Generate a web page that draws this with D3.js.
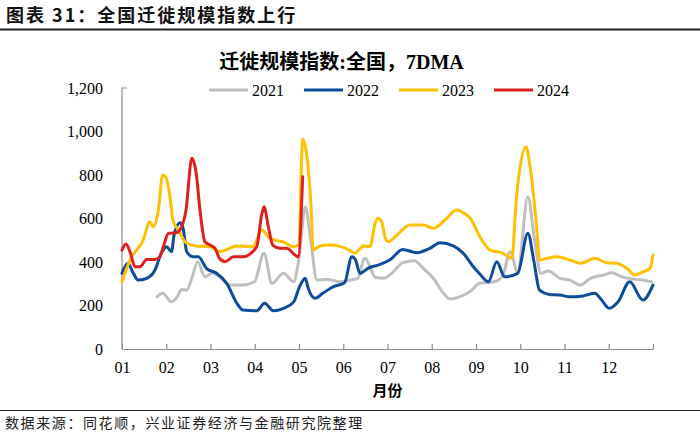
<!DOCTYPE html>
<html>
<head>
<meta charset="utf-8">
<script src="https://cdn.jsdelivr.net/npm/d3@7"></script>
<style>
  html, body { margin: 0; padding: 0; background: #fff; }
  svg { display: block; }
</style>
</head>
<body>
<svg id="chart" width="700" height="433"></svg>
<script>
// ---------------- DATA ----------------
const monthLabels = ["01","02","03","04","05","06","07","08","09","10","11","12"];
const yTicks = [0, 200, 400, 600, 800, 1000, 1200];
const seriesNames = ["2021", "2022", "2023", "2024"];

// day-of-year positions and 7DMA values
const days2021 = [24,28,34,38,41,44.5,48,52,57,62,67,74,83,91,97.6,103,111,118,121.5,126,129.7,134,141,150,157,162,167,170.5,174,180,186.5,193,201,207,214,221,225.5,232,239,246,256,262,266.7,272,279,283.6,288,293,301,308,315,322,331,336.6,343.5,351.5,358,364];
const vals2021 = [240,256,217,240,274,271,325,401,332,348,332,294,294,309,440,302,348,309,409,654,501,317,320,309,317,325,417,378,330,325,355,397,406,371,325,256,230,240,263,302,309,340,447,355,700,501,348,359,325,317,294,325,340,351,332,322,317,309];

const days2022 = [0,4,7.8,11,17,22.7,27,30.7,34,36,40,42,44.5,49,52.5,58,65,72,79,83,92.6,98,104,111,118,122,126,128,132.7,138,145,153,158,160.5,163.6,169,176,184,193,202.5,211.7,218.6,227.7,234.6,241.5,246,251.8,257.6,263,272,279,283,287,294,301,308,317,325,329.7,335,341,349,358,365];
const vals2022 = [348,394,348,317,325,363,440,470,447,532,581,555,447,424,424,371,348,302,210,179,176,210,176,187,217,286,325,279,233,256,286,305,424,409,348,371,386,409,458,443,463,489,474,440,378,345,309,401,332,348,532,409,271,251,248,240,244,256,225,187,217,309,225,294];

const days2023 = [0,5.5,14.6,19.2,21.5,25,28,30,33,35,38.7,44.5,51,60.5,67,79,90,96,101.7,112,117.7,121.5,124.2,129.7,131.5,136,143,157,160,166,170.5,174,176,178.5,181,183,189,198,207,214,222,230,237,239,246,253,262,268,271,277.7,280.5,285,287,292,299,308,315,325,333,340,347,352.6,358,363,365];
const vals2023 = [310,409,501,585,562,639,800,792,700,593,547,486,474,470,447,474,470,547,509,489,470,480,964,685,455,474,478,452,440,474,470,578,601,585,509,493,524,570,570,555,593,639,616,605,516,455,440,417,685,930,838,562,409,417,424,409,394,417,397,394,371,340,355,371,432];

const days2024 = [0,2.7,5.5,9,12.4,17,22.7,26,28.4,32,37.6,41,44,48,51,53.6,57,60.5,64,67,71,76.5,83,92.6,96,97.6,100.6,103.6,108.6,113,119,121,124.2];
const vals2024 = [455,483,447,378,378,412,412,424,470,532,535,562,639,877,808,639,493,478,463,417,401,424,424,470,616,654,562,478,463,463,432,424,792];

const seriesColors = ["#BFBFBF", "#0E4C9A", "#FFC000", "#E0201E"];

// ---------------- LAYOUT ----------------
const svg = d3.select("#chart");
const W = 700, H = 433;
const plot = { left: 122, right: 653, top: 88, bottom: 349 };
const serif = "'Liberation Serif','Times New Roman','Noto Sans CJK SC',serif";
const cjk = "'Noto Sans CJK SC','Liberation Serif',sans-serif";

svg.append("rect").attr("width", W).attr("height", H).attr("fill", "#fff");

// header
svg.append("text")
  .attr("x", 6).attr("y", 22)
  .attr("font-family", cjk).attr("font-weight", "bold")
  .attr("font-size", 18).attr("letter-spacing", 2)
  .attr("fill", "#111")
  .text("图表 31：全国迁徙规模指数上行");
svg.append("line").attr("x1", 0).attr("x2", W).attr("y1", 29.5).attr("y2", 29.5)
  .attr("stroke", "#222").attr("stroke-width", 2);

// footer
svg.append("line").attr("x1", 0).attr("x2", W).attr("y1", 410.5).attr("y2", 410.5)
  .attr("stroke", "#222").attr("stroke-width", 1);
svg.append("text")
  .attr("x", 5).attr("y", 428)
  .attr("font-family", cjk).attr("font-size", 14).attr("letter-spacing", 1.6)
  .attr("fill", "#222")
  .text("数据来源：同花顺，兴业证券经济与金融研究院整理");

// chart title
svg.append("text")
  .attr("x", 341.5).attr("y", 69)
  .attr("text-anchor", "middle")
  .attr("font-family", serif).attr("font-weight", "bold").attr("font-size", 20)
  .attr("fill", "#000")
  .text("迁徙规模指数:全国，7DMA");

// scales
const x = d3.scaleLinear().domain([0, 365]).range([plot.left, plot.right]);
const y = d3.scaleLinear().domain([0, 1200]).range([plot.bottom, plot.top]);

// y axis labels
const yAxis = d3.axisLeft(y).tickValues(yTicks).tickSize(0).tickPadding(19)
  .tickFormat(d3.format(","));
const gy = svg.append("g").attr("transform", `translate(${plot.left},0)`).call(yAxis);
gy.select(".domain").remove();
gy.selectAll("text").attr("font-family", serif).attr("font-size", 16).attr("fill", "#000");

// y axis line + top tick
svg.append("path")
  .attr("d", `M${plot.left + 5},${y(1200)}H${plot.left}V${plot.bottom}`)
  .attr("fill", "none").attr("stroke", "#8c8c8c").attr("stroke-width", 1.2);

// x axis
const monthTicks = d3.range(13).map(i => i * 365 / 12);
const xAxis = d3.axisBottom(x).tickValues(monthTicks).tickSizeInner(-5).tickSizeOuter(0)
  .tickPadding(13)
  .tickFormat((d, i) => i < 12 ? monthLabels[i] : "");
const gx = svg.append("g").attr("transform", `translate(0,${plot.bottom})`).call(xAxis);
gx.select(".domain").attr("stroke", "#8c8c8c").attr("stroke-width", 1.2);
gx.selectAll(".tick line").attr("stroke", "#8c8c8c").attr("stroke-width", 1.2);
gx.selectAll("text").attr("font-family", serif).attr("font-size", 16).attr("fill", "#000");

// x axis title
svg.append("text")
  .attr("x", (plot.left + plot.right) / 2).attr("y", 396)
  .attr("text-anchor", "middle")
  .attr("font-family", cjk).attr("font-weight", "bold").attr("font-size", 15)
  .attr("fill", "#000")
  .text("月份");

// lines
const allDays = [days2021, days2022, days2023, days2024];
const allVals = [vals2021, vals2022, vals2023, vals2024];
const line = d3.line().x(d => x(d[0])).y(d => y(d[1])).curve(d3.curveMonotoneX);
allDays.forEach((ds, i) => {
  const pts = ds.map((d, j) => [d, allVals[i][j]]);
  svg.append("path")
    .datum(pts)
    .attr("d", line)
    .attr("fill", "none")
    .attr("stroke", seriesColors[i])
    .attr("stroke-width", 3)
    .attr("stroke-linejoin", "round")
    .attr("stroke-linecap", "round");
});

// legend
const legendX = [209, 304, 399, 494];
const legendY = 90;
seriesNames.forEach((name, i) => {
  svg.append("line")
    .attr("x1", legendX[i]).attr("x2", legendX[i] + 39)
    .attr("y1", legendY).attr("y2", legendY)
    .attr("stroke", seriesColors[i]).attr("stroke-width", 3);
  svg.append("text")
    .attr("x", legendX[i] + 43).attr("y", legendY + 5.5)
    .attr("font-family", serif).attr("font-size", 16).attr("fill", "#000")
    .text(name);
});
</script>
</body>
</html>
